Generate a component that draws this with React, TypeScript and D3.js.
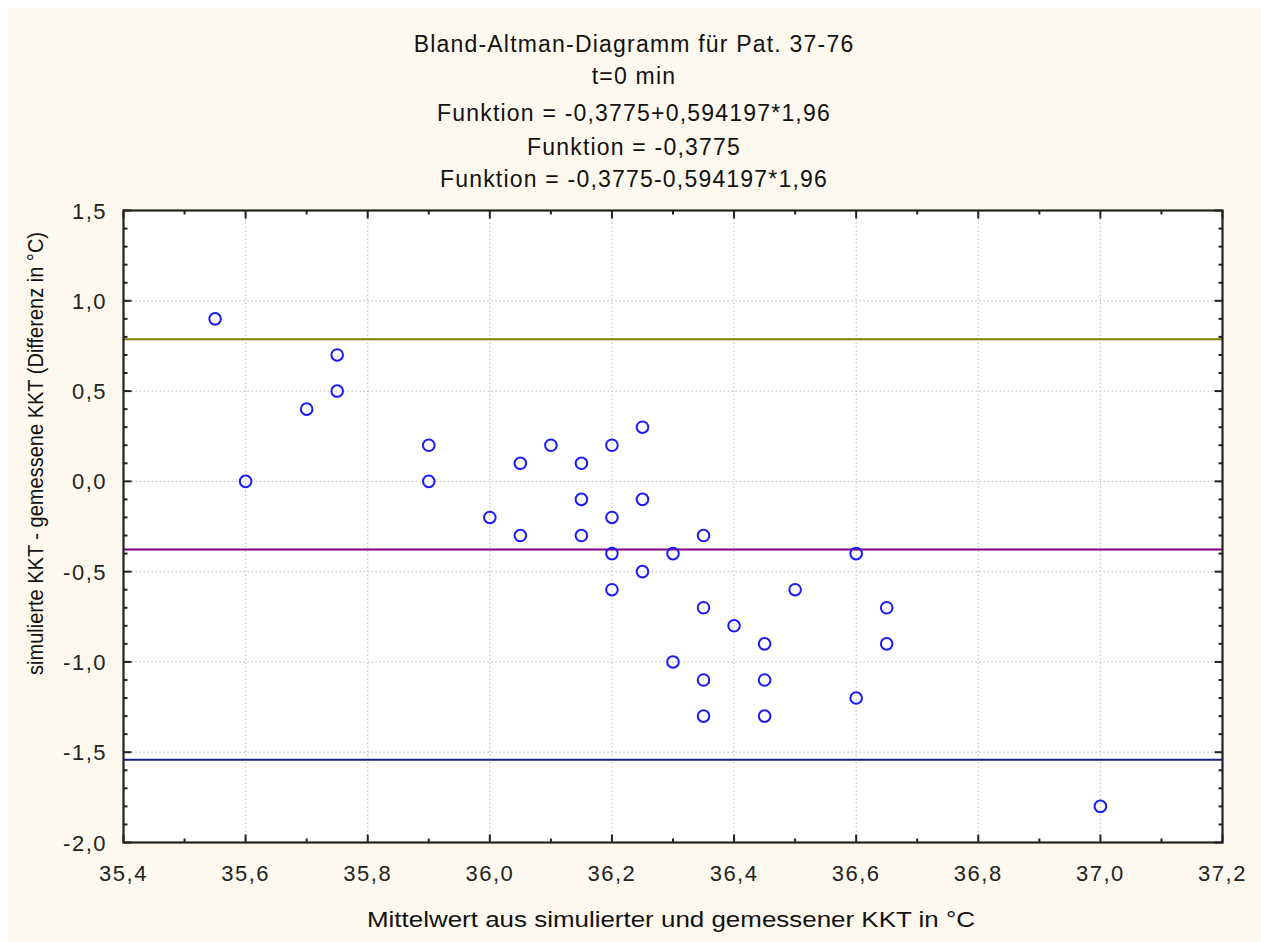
import React from "react";
import * as d3 from "d3";

// Mittelwert (x) und Differenz (y) je Patient
const meanValues: number[] = [
  35.55, 35.6, 35.7, 35.75, 35.75, 35.9, 35.9, 36.0, 36.05, 36.05, 36.1, 36.15,
  36.15, 36.15, 36.2, 36.2, 36.2, 36.2, 36.25, 36.25, 36.25, 36.3, 36.3, 36.35,
  36.35, 36.35, 36.35, 36.4, 36.45, 36.45, 36.45, 36.5, 36.6, 36.6, 36.65,
  36.65, 37.0,
];
const diffValues: number[] = [
  0.9, 0.0, 0.4, 0.7, 0.5, 0.2, 0.0, -0.2, 0.1, -0.3, 0.2, 0.1, -0.1, -0.3,
  0.2, -0.2, -0.4, -0.6, 0.3, -0.1, -0.5, -0.4, -1.0, -0.3, -0.7, -1.1, -1.3,
  -0.8, -0.9, -1.1, -1.3, -0.6, -0.4, -1.2, -0.7, -0.9, -1.8,
];

// Mittlere Differenz und Standardabweichung
const meanDiff = -0.3775;
const sdDiff = 0.594197;
const zFactor = 1.96;

const refLines = [
  { value: meanDiff + sdDiff * zFactor, color: "#7f7f00" },
  { value: meanDiff, color: "#800080" },
  { value: meanDiff - sdDiff * zFactor, color: "#1c1c8c" },
];

const titleLines: string[] = [
  "Bland-Altman-Diagramm für Pat. 37-76",
  "t=0 min",
  "Funktion = -0,3775+0,594197*1,96",
  "Funktion = -0,3775",
  "Funktion = -0,3775-0,594197*1,96",
];
const titleBaselines = [44, 76, 113, 147, 179];

const xTicks: number[] = [35.4, 35.6, 35.8, 36.0, 36.2, 36.4, 36.6, 36.8, 37.0, 37.2];
const yTicks: number[] = [-2.0, -1.5, -1.0, -0.5, 0.0, 0.5, 1.0, 1.5];
const xMinorTicks: number[] = d3.range(35.5, 37.2, 0.2);
const yMinorTicks: number[] = d3.range(-1.9, 1.5, 0.1).filter(
  (v) => Math.abs(Math.round(v * 2) - v * 2) > 0.01
);

const xLabel = "Mittelwert aus simulierter und gemessener KKT in °C";
const yLabel = "simulierte KKT - gemessene KKT (Differenz in °C)";

const W = 1253;
const H = 934;
const plot = { left: 115.5, right: 1214.5, top: 202.5, bottom: 834.5 };
const font = "'Liberation Sans', Arial, sans-serif";

const fmt = (v: number) => v.toFixed(1).replace(".", ",");

export default function App() {
  const x = d3.scaleLinear().domain([35.4, 37.2]).range([plot.left, plot.right]);
  const y = d3.scaleLinear().domain([-2.0, 1.5]).range([plot.bottom, plot.top]);

  const majorLen = 8;
  const minorLen = 4;

  return (
    <svg
      width={W}
      height={H}
      style={{ display: "block", position: "fixed", left: 8, top: 8 }}
    >
      <rect x={0} y={0} width={W} height={H} fill="#fef9ee" />
      <rect
        x={plot.left}
        y={plot.top}
        width={plot.right - plot.left}
        height={plot.bottom - plot.top}
        fill="#ffffff"
      />

      {/* Titel */}
      {titleLines.map((t, i) => (
        <text
          key={i}
          x={626}
          y={titleBaselines[i]}
          textAnchor="middle"
          fontFamily={font}
          fontSize={23}
          letterSpacing={1.2}
          fill="#111"
        >
          {t}
        </text>
      ))}

      {/* Gitterlinien */}
      {xTicks.slice(1, -1).map((t) => (
        <line
          key={"gx" + t}
          x1={x(t)}
          x2={x(t)}
          y1={plot.top}
          y2={plot.bottom}
          stroke="#c4c4c4"
          strokeWidth={1.2}
          strokeDasharray="1.5 2.5"
        />
      ))}
      {yTicks.slice(1, -1).map((t) => (
        <line
          key={"gy" + t}
          x1={plot.left}
          x2={plot.right}
          y1={y(t)}
          y2={y(t)}
          stroke="#c4c4c4"
          strokeWidth={1.2}
          strokeDasharray="1.5 2.5"
        />
      ))}

      {/* Referenzlinien */}
      {refLines.map((r, i) => (
        <line
          key={"r" + i}
          x1={plot.left}
          x2={plot.right}
          y1={y(r.value)}
          y2={y(r.value)}
          stroke={r.color}
          strokeWidth={2}
        />
      ))}

      {/* Messpunkte */}
      {meanValues.map((m, i) => (
        <circle
          key={"p" + i}
          cx={x(m)}
          cy={y(diffValues[i])}
          r={5.8}
          fill="none"
          stroke="#1a1aff"
          strokeWidth={2}
        />
      ))}

      {/* Ticks an allen Seiten */}
      <g stroke="#222" strokeWidth={2}>
        {xTicks.map((t) => (
          <g key={"tx" + t}>
            <line x1={x(t)} x2={x(t)} y1={plot.bottom} y2={plot.bottom - majorLen} />
            <line x1={x(t)} x2={x(t)} y1={plot.top} y2={plot.top + majorLen} />
          </g>
        ))}
        {xMinorTicks.map((t) => (
          <g key={"mx" + t}>
            <line x1={x(t)} x2={x(t)} y1={plot.bottom} y2={plot.bottom - minorLen} />
            <line x1={x(t)} x2={x(t)} y1={plot.top} y2={plot.top + minorLen} />
          </g>
        ))}
        {yTicks.map((t) => (
          <g key={"ty" + t}>
            <line x1={plot.left} x2={plot.left + majorLen} y1={y(t)} y2={y(t)} />
            <line x1={plot.right} x2={plot.right - majorLen} y1={y(t)} y2={y(t)} />
          </g>
        ))}
        {yMinorTicks.map((t) => (
          <g key={"my" + t}>
            <line x1={plot.left} x2={plot.left + minorLen} y1={y(t)} y2={y(t)} />
            <line x1={plot.right} x2={plot.right - minorLen} y1={y(t)} y2={y(t)} />
          </g>
        ))}
      </g>

      {/* Rahmen */}
      <rect
        x={plot.left}
        y={plot.top}
        width={plot.right - plot.left}
        height={plot.bottom - plot.top}
        fill="none"
        stroke="#222"
        strokeWidth={2.2}
      />

      {/* Achsenbeschriftung */}
      {xTicks.map((t) => (
        <text
          key={"lx" + t}
          x={x(t)}
          y={873}
          textAnchor="middle"
          fontFamily={font}
          fontSize={22}
          letterSpacing={1.5}
          fill="#222"
        >
          {fmt(t)}
        </text>
      ))}
      {yTicks.map((t) => (
        <text
          key={"ly" + t}
          x={99}
          y={y(t) + 8}
          textAnchor="end"
          fontFamily={font}
          fontSize={22}
          letterSpacing={1.5}
          fill="#222"
        >
          {fmt(t)}
        </text>
      ))}

      <text
        x={359}
        y={919}
        fontFamily={font}
        fontSize={22}
        textLength={608}
        lengthAdjust="spacingAndGlyphs"
        fill="#111"
      >
        {xLabel}
      </text>
      <text
        transform={`translate(35, 667) rotate(-90)`}
        fontFamily={font}
        fontSize={22}
        textLength={443}
        lengthAdjust="spacingAndGlyphs"
        fill="#111"
      >
        {yLabel}
      </text>
    </svg>
  );
}
